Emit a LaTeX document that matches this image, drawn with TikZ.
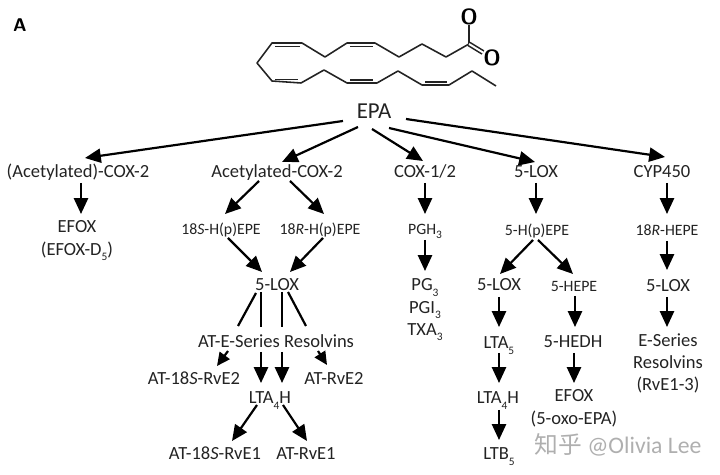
\documentclass[tikz,border=0pt]{standalone}
\usepackage{fontspec}
\setmainfont{Carlito}
\newfontfamily\cjkfont{Noto Sans CJK SC}
\usetikzlibrary{arrows.meta}
\definecolor{TX}{RGB}{35, 35, 35}
\definecolor{WM}{RGB}{175, 175, 175}
\newcommand{\lowsub}[1]{\raisebox{-0.6ex}{\fontsize{6.5}{7}\selectfont #1}}
\tikzset{
    lbl/.style={inner sep=0pt, text=TX, align=center, execute at begin node={\strut\rule{0pt}{11.6pt}},
        font=\fontsize{10.55}{12.75}\selectfont},
    lblsmall/.style={inner sep=0pt, text=TX, align=center, execute at begin node={\strut\rule{0pt}{10pt}},
        font=\fontsize{9}{10}\selectfont},
    arr/.style={line width=1.25pt, -{Triangle[width=8pt, length=9pt]}},
    thinarr/.style={line width=1.25pt, -{Triangle[width=7pt, length=7.5pt]}},
    branch/.style={line width=1.25pt},
    bond/.style={line width=0.9pt, TX},
}
\begin{document}
\begin{tikzpicture}[x=0.02cm, y=-0.02cm]
    \useasboundingbox (0,0) rectangle (720,475);
    \node[font=\sffamily\bfseries\fontsize{10.5}{12}\selectfont] (panel) at (20,25) {A};
    % molecule
    \node[inner sep=0pt, font=\sffamily\bfseries\fontsize{12.5}{12}\selectfont] (oa) at (469,17) {O};
    \node[inner sep=0pt, font=\sffamily\bfseries\fontsize{12.5}{12}\selectfont] (ob) at (492,58) {O};
    \coordinate (acid) at (469,44);
    \draw[bond, line join=round] (acid) -- (446,57) -- (422,44) -- (399,57) -- (375,43) -- (347,43)
        -- (325,57) -- (302,43) -- (272,43) -- (257,63) -- (272,81) -- (301,83) -- (324,70)
        -- (347,83) -- (377,83) -- (398,71) -- (422,85) -- (449,85) -- (472,71) -- (496,86);
    \draw[bond] (275,46.5) -- (300,46.5);
    \draw[bond] (350,46.5) -- (373,46.5);
    \draw[bond] (275,79.5) -- (298,79.5);
    \draw[bond] (350,80) -- (373,80);
    \draw[bond] (425,82) -- (447,82);
    \draw[bond] (acid) -- (oa);
    \draw[bond, double, double distance=1.1pt] (acid) -- (ob);
    % first row
    \node[lbl, font=\fontsize{13}{14}\selectfont] (epa) at (374,112) {EPA};
    \node[lbl] (acox) at (78,171) {(Acetylated)-COX-2};
    \node[lbl] (bcox) at (277,171) {Acetylated-COX-2};
    \node[lbl] (cox) at (425,171) {COX-1/2};
    \node[lbl] (lox) at (536,171) {5-LOX};
    \node[lbl] (cyp) at (662,171) {CYP450};
    % left branch
    \node[lbl] (efox) at (77,241.5) {EFOX\\(EFOX-D\lowsub{5})};
    % acetylated branch
    \node[lblsmall] (sh) at (221,228) {18\textit{S}-H(p)EPE};
    \node[lblsmall] (rh) at (320,228) {18\textit{R}-H(p)EPE};
    \node[lbl] (slox) at (277,284) {5-LOX};
    \node[lbl] (ater) at (276,341) {AT-E-Series Resolvins};
    \node[lbl] (rvtwos) at (194,378) {AT-18\textit{S}-RvE2};
    \node[lbl] (rvtwo) at (334,378) {AT-RvE2};
    \node[lbl] (lta) at (270,397) {LTA\lowsub{4}H};
    \node[lbl] (rvones) at (215,453) {AT-18\textit{S}-RvE1};
    \node[lbl] (rvone) at (306,453) {AT-RvE1};
    % cox branch
    \node[lblsmall] (pgh) at (425,228) {PGH\lowsub{3}};
    \node[lbl] (pg) at (425,310.5) {PG\lowsub{3}\\PGI\lowsub{3}\\TXA\lowsub{3}};
    % lox branch
    \node[lblsmall] (hp) at (537,229) {5-H(p)EPE};
    \node[lbl] (plox) at (499,284) {5-LOX};
    \node[lblsmall] (hepe) at (574,285) {5-HEPE};
    \node[lbl] (ltaf) at (499,342) {LTA\lowsub{5}};
    \node[lbl] (hedh) at (573,341) {5-HEDH};
    \node[lbl] (ltah) at (498,397) {LTA\lowsub{4}H};
    \node[lbl] (oxo) at (574,410.5) {EFOX\\(5-oxo-EPA)};
    \node[lbl] (ltb) at (499,453) {LTB\lowsub{5}};
    % cyp branch
    \node[lblsmall] (hh) at (667,229) {18\textit{R}-HEPE};
    \node[lbl] (clox) at (668,285) {5-LOX};
    \node[lbl] (eser) at (668,365.5) {E-Series\\Resolvins\\(RvE1-3)};
    \node[inner sep=0pt, text=WM, font=\fontsize{13.5}{14}\selectfont] (mark) at (618,445) {{\cjkfont 知乎} @Olivia Lee};
    % connectors
    \draw[arr] ([shift={(-31,9)}]epa.center) -- ([shift={(7,-13)}]acox.center);
    \draw[arr] ([shift={(-16,15)}]epa.center) -- ([shift={(5,-9)}]bcox.center);
    \draw[arr] ([shift={(-2,17)}]epa.center) -- ([shift={(-2,-10)}]cox.center);
    \draw[arr] ([shift={(15,16)}]epa.center) -- ([shift={(-1,-9)}]lox.center);
    \draw[arr] ([shift={(32,7)}]epa.center) -- ([shift={(3,-14)}]cyp.center);
    \draw[arr] ([shift={(3,12)}]acox.center) -- ([shift={(4,-27.5)}]efox.center);
    \draw[arr] ([shift={(-18,10)}]bcox.center) -- ([shift={(4,-14)}]sh.center);
    \draw[arr] ([shift={(13,10)}]bcox.center) -- ([shift={(4,-14)}]rh.center);
    \draw[arr] ([shift={(7,10)}]sh.center) -- ([shift={(-15,-12)}]slox.center);
    \draw[arr] ([shift={(3,10)}]rh.center) -- ([shift={(13,-12)}]slox.center);
    \draw[branch] ([shift={(-21,9)}]slox.center) -- ([shift={(-38,-15)}]ater.center);
    \draw[branch] ([shift={(-16,8)}]slox.center) -- ([shift={(-15,-14)}]ater.center);
    \draw[branch] ([shift={(5,8)}]slox.center) -- ([shift={(6,-14)}]ater.center);
    \draw[branch] ([shift={(11,8)}]slox.center) -- ([shift={(30,-15)}]ater.center);
    \draw[thinarr] ([shift={(-48,10)}]ater.center) -- ([shift={(23,-12)}]rvtwos.center);
    \draw[thinarr] ([shift={(42,10)}]ater.center) -- ([shift={(-7,-13)}]rvtwo.center);
    \draw[arr] ([shift={(-15,11)}]ater.center) -- ([shift={(-9,-14)}]lta.center);
    \draw[arr] ([shift={(6,11)}]ater.center) -- ([shift={(12,-14)}]lta.center);
    \draw[arr] ([shift={(-13,8)}]lta.center) -- ([shift={(17,-12)}]rvones.center);
    \draw[arr] ([shift={(13,8)}]lta.center) -- ([shift={(1,-12)}]rvone.center);
    \draw[arr] ([shift={(0,12)}]cox.center) -- ([shift={(0,-14)}]pgh.center);
    \draw[arr] ([shift={(0,12)}]pgh.center) -- ([shift={(0,-39.5)}]pg.center);
    \draw[arr] ([shift={(0,12)}]lox.center) -- ([shift={(-1,-15)}]hp.center);
    \draw[arr] ([shift={(-4,11)}]hp.center) -- ([shift={(1,-10)}]plox.center);
    \draw[arr] ([shift={(1,11)}]hp.center) -- ([shift={(-1,-11)}]hepe.center);
    \draw[arr] ([shift={(0,13)}]plox.center) -- ([shift={(0,-15)}]ltaf.center);
    \draw[arr] ([shift={(0,11)}]ltaf.center) -- ([shift={(1,-14)}]ltah.center);
    \draw[arr] ([shift={(1,13)}]ltah.center) -- ([shift={(0,-13)}]ltb.center);
    \draw[arr] ([shift={(1,11)}]hepe.center) -- ([shift={(2,-14)}]hedh.center);
    \draw[arr] ([shift={(1,12)}]hedh.center) -- ([shift={(0,-27.5)}]oxo.center);
    \draw[arr] ([shift={(5,12)}]cyp.center) -- ([shift={(0,-15)}]hh.center);
    \draw[arr] ([shift={(0,12)}]hh.center) -- ([shift={(-1,-15)}]clox.center);
    \draw[arr] ([shift={(-1,12)}]clox.center) -- ([shift={(-1,-38.5)}]eser.center);
\end{tikzpicture}
\end{document}
